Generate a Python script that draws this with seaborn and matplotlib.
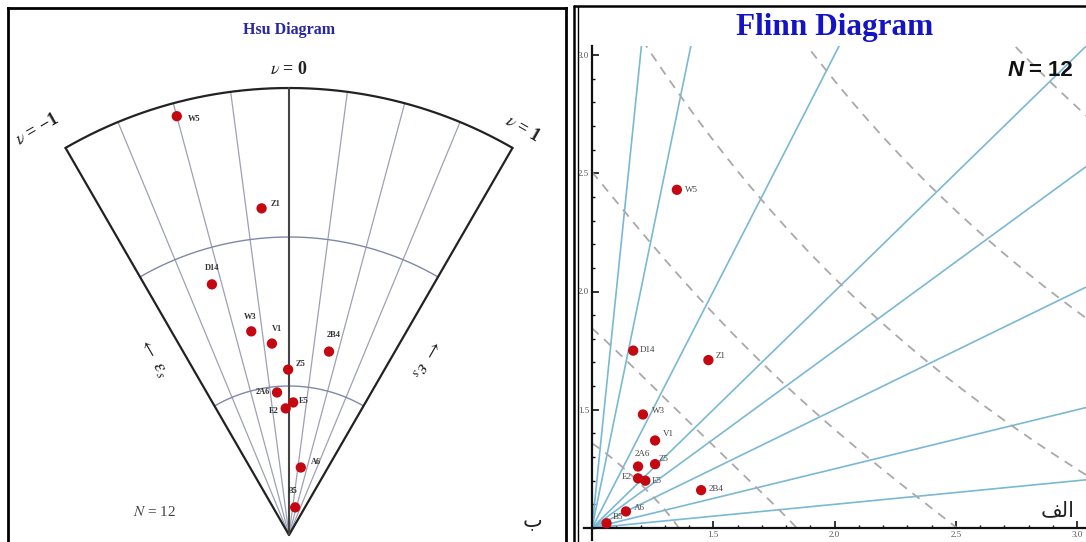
import numpy as np
import pandas as pd
import matplotlib
matplotlib.use("Agg")
import matplotlib.pyplot as plt
import seaborn as sns
from matplotlib.lines import Line2D
from matplotlib.ticker import MultipleLocator, FixedLocator

# ---------------- data ----------------
sample_names = ["W5", "Z1", "D14", "W3", "V1", "2B4", "Z5", "2A6", "E5", "E2", "A6", "B5"]
# Hsu diagram: natural octahedral unit shear (eps_s) and Lode parameter (nu)
hsu_eps_s = [2.91, 2.20, 1.76, 1.39, 1.29, 1.26, 1.11, 0.96, 0.89, 0.85, 0.46, 0.19]
hsu_nu = [-0.50, -0.16, -0.57, -0.35, -0.17, 0.41, -0.01, -0.16, 0.06, -0.05, 0.33, 0.42]
# Flinn diagram: Y/Z (x axis) and X/Y (y axis)
flinn_ryz = [1.35, 1.48, 1.17, 1.21, 1.26, 1.45, 1.26, 1.19, 1.22, 1.19, 1.14, 1.06]
flinn_rxy = [2.43, 1.71, 1.75, 1.48, 1.37, 1.16, 1.27, 1.26, 1.20, 1.21, 1.07, 1.02]
# reference grids
hsu_nu_grid = [-0.75, -0.5, -0.25, 0.25, 0.5, 0.75]
hsu_eps_arcs = [1, 2]
hsu_eps_max = 3
flinn_k_lines = [10, 5, 2, 1, 0.75, 0.5, 0.25, 0.1]
flinn_eps_curves = [0.25, 0.5, 0.75, 1.0, 1.25, 1.5]
flinn_ticks = [1.5, 2.0, 2.5, 3.0]
flinn_tick_labels = ["1.5", "2.0", "2.5", "3.0"]

# label offsets (pixels) and alignment
hsu_off = {"W5": (11, -3, "left"), "Z1": (9, 4, "left"), "D14": (0, 16, "center"),
           "W3": (-1, 14, "center"), "V1": (5, 15, "center"), "2B4": (5, 17, "center"),
           "Z5": (7, 6, "left"), "2A6": (-7, 0, "right"), "E5": (6, 1, "left"),
           "E2": (-7, -3, "right"), "A6": (10, 5, "left"), "B5": (-2, 16, "center")}
flinn_off = {"W5": (8, 0, "left"), "Z1": (7, 4, "left"), "D14": (7, 1, "left"),
             "W3": (9, 3, "left"), "V1": (8, 6, "left"), "2B4": (8, 1, "left"),
             "Z5": (4, 5, "left"), "2A6": (4, 13, "center"), "E5": (6, 0, "left"),
             "E2": (-6, 1, "right"), "A6": (8, 3, "left"), "B5": (6, 6, "left")}

sns.set_style("white")
plt.rcParams["font.family"] = ["Liberation Serif", "DejaVu Sans"]
plt.rcParams["mathtext.fontset"] = "stix"

W, H = 1086, 542
fig = plt.figure(figsize=(W / 100, H / 100), dpi=100)


def fx(px):
    return px / W


def fy(py):
    return 1 - py / H


PT_COLOR = "#c30812"

# ---------------- Hsu diagram ----------------
ax1 = fig.add_axes([fx(8), 0, fx(566) - fx(8), fy(8)])
ax1.set_xlim(-1.886, 1.859)
ax1.set_ylim(-0.047, 3.537)
ax1.set_xticks([])
ax1.set_yticks([])
for s in ["left", "right", "top"]:
    ax1.spines[s].set_linewidth(2)
    ax1.spines[s].set_color("black")
ax1.spines["bottom"].set_visible(False)

deg = np.pi / 6  # nu = +-1 -> +-30 degrees


def hsu_xy(eps, nu):
    th = np.asarray(nu) * deg
    return np.asarray(eps) * np.sin(th), np.asarray(eps) * np.cos(th)


# radial grid lines
for nu in hsu_nu_grid:
    x, y = hsu_xy([0, hsu_eps_max], [nu, nu])
    ax1.plot(x, y, color="#9da1b4", lw=0.9, zorder=1)
# arcs
tt = np.linspace(-1, 1, 200)
for r in hsu_eps_arcs:
    x, y = hsu_xy(np.full_like(tt, r), tt)
    ax1.plot(x, y, color="#7f88aa", lw=1.0, zorder=1)
# boundary
x, y = hsu_xy(np.full_like(tt, hsu_eps_max), tt)
ax1.plot(x, y, color="#222222", lw=1.6, zorder=2)
for nu in [-1, 1]:
    x, y = hsu_xy([0, hsu_eps_max], [nu, nu])
    ax1.plot(x, y, color="#222222", lw=1.6, zorder=2)
x, y = hsu_xy([0, hsu_eps_max], [0, 0])
ax1.plot(x, y, color="#444444", lw=1.5, zorder=2)

hx, hy = hsu_xy(hsu_eps_s, hsu_nu)
hsu_df = pd.DataFrame({"x": hx, "y": hy, "name": sample_names})
sns.scatterplot(data=hsu_df, x="x", y="y", s=55, color=PT_COLOR, edgecolor="none",
                ax=ax1, zorder=5, legend=False)
for _, row in hsu_df.iterrows():
    dx, dy, ha = hsu_off[row["name"]]
    ax1.annotate(row["name"], (row["x"], row["y"]), xytext=(dx, dy),
                 textcoords="offset pixels", ha=ha, va="center",
                 fontsize=6, fontweight="bold", color="#333333", zorder=6)
ax1.set_xlabel("")
ax1.set_ylabel("")

fig.text(fx(289), fy(30), "Hsu Diagram", ha="center", va="center", fontsize=11.5,
         fontweight="bold", color="#2626a8")
fig.text(fx(289), fy(70), r"$\nu$ = 0", ha="center", va="center", fontsize=13,
         fontweight="bold", color="#222222")
fig.text(fx(38), fy(129), r"$\nu$ = −1", ha="center", va="center", fontsize=13,
         fontweight="bold", color="#222222", rotation=30)
fig.text(fx(523), fy(129), r"$\nu$ = 1", ha="center", va="center", fontsize=13,
         fontweight="bold", color="#222222", rotation=-30)
fig.text(fx(152), fy(358), r"$\leftarrow\ \epsilon_s$", ha="center", va="center",
         fontsize=14, color="#222222", rotation=-60)
fig.text(fx(426), fy(357), r"$\leftarrow\ \epsilon_s$", ha="center", va="center",
         fontsize=14, color="#222222", rotation=-120)
fig.text(fx(155), fy(512), r"$N$ = 12", ha="center", va="center", fontsize=11,
         color="#444444")
fig.text(fx(533), fy(520), "\u0628", ha="center", va="center", fontsize=15,
         color="#222222", family=["DejaVu Sans"])

# ---------------- Flinn diagram ----------------
ax2 = fig.add_axes([fx(584), fy(540), fx(1086) - fx(584), fy(46) - fy(540)])
ax2.set_xlim(1 - 8 / 242.5, 1 + 494 / 242.5)
ax2.set_ylim(1 - 12 / 236.5, 1 + 482 / 236.5)
ax2.set_facecolor("white")

xmax = 4.0
for k in flinn_k_lines:
    t = np.array([0, xmax])
    ax2.plot(1 + t, 1 + k * t, color="#7ab8d4", lw=1.2, zorder=1)

for e in flinn_eps_curves:
    c = 1.5 * e ** 2
    B = np.linspace(0, np.sqrt(c), 300)
    A = (-B + np.sqrt(np.clip(4 * c - 3 * B ** 2, 0, None))) / 2
    ax2.plot(np.exp(B), np.exp(A), color="#a9a9a9", lw=1.3, ls=(0, (5, 4)), zorder=1)

flinn_df = pd.DataFrame({"ryz": flinn_ryz, "rxy": flinn_rxy, "name": sample_names})
sns.scatterplot(data=flinn_df, x="ryz", y="rxy", s=55, color=PT_COLOR, edgecolor="none",
                ax=ax2, zorder=5, legend=False)
for _, row in flinn_df.iterrows():
    dx, dy, ha = flinn_off[row["name"]]
    ax2.annotate(row["name"], (row["ryz"], row["rxy"]), xytext=(dx, dy),
                 textcoords="offset pixels", ha=ha, va="center",
                 fontsize=6.5, color="#444444", zorder=4)
ax2.set_xlabel("")
ax2.set_ylabel("")

for s in ["top", "right"]:
    ax2.spines[s].set_visible(False)
for s in ["left", "bottom"]:
    ax2.spines[s].set_position(("data", 1.0))
    ax2.spines[s].set_color("#111111")
    ax2.spines[s].set_linewidth(1.6)
    ax2.spines[s].set_zorder(3)
ax2.xaxis.set_major_locator(FixedLocator(flinn_ticks))
ax2.yaxis.set_major_locator(FixedLocator(flinn_ticks))
ax2.set_xticklabels(flinn_tick_labels)
ax2.set_yticklabels(flinn_tick_labels)
ax2.xaxis.set_minor_locator(MultipleLocator(0.1))
ax2.yaxis.set_minor_locator(MultipleLocator(0.1))
ax2.tick_params(which="major", direction="in", length=5, width=1.2, labelsize=6.5,
                labelcolor="#555555", color="#111111", pad=2,
                bottom=True, left=True)
ax2.tick_params(which="minor", direction="in", length=2.5, width=1.0, color="#111111",
                bottom=True, left=True)

fig.text(fx(835), fy(28), "Flinn Diagram", ha="center", va="center", fontsize=22.5,
         fontweight="bold", color="#1414c4")
fig.text(fx(1024), fy(70), "N", ha="right", va="center", fontsize=16, fontweight="bold",
         fontstyle="italic", color="#111111", family=["Liberation Sans"])
fig.text(fx(1029), fy(70), "= 12", ha="left", va="center", fontsize=16, fontweight="bold",
         color="#111111", family=["Liberation Sans"])
fig.text(fx(1075), fy(510), "\uFED2\uFEDF\u0627", ha="right", va="center", fontsize=15,
         color="#222222", family=["DejaVu Sans"])

# panel borders
fig.add_artist(Line2D([fx(574), fx(574)], [fy(6), 0], transform=fig.transFigure,
                      color="black", lw=1.8))
fig.add_artist(Line2D([fx(578), fx(578)], [fy(6), 0], transform=fig.transFigure,
                      color="black", lw=1.0))
fig.add_artist(Line2D([fx(574), 1], [fy(6), fy(6)], transform=fig.transFigure,
                      color="black", lw=1.8))

fig.savefig("out.png", dpi=100, facecolor="white")
